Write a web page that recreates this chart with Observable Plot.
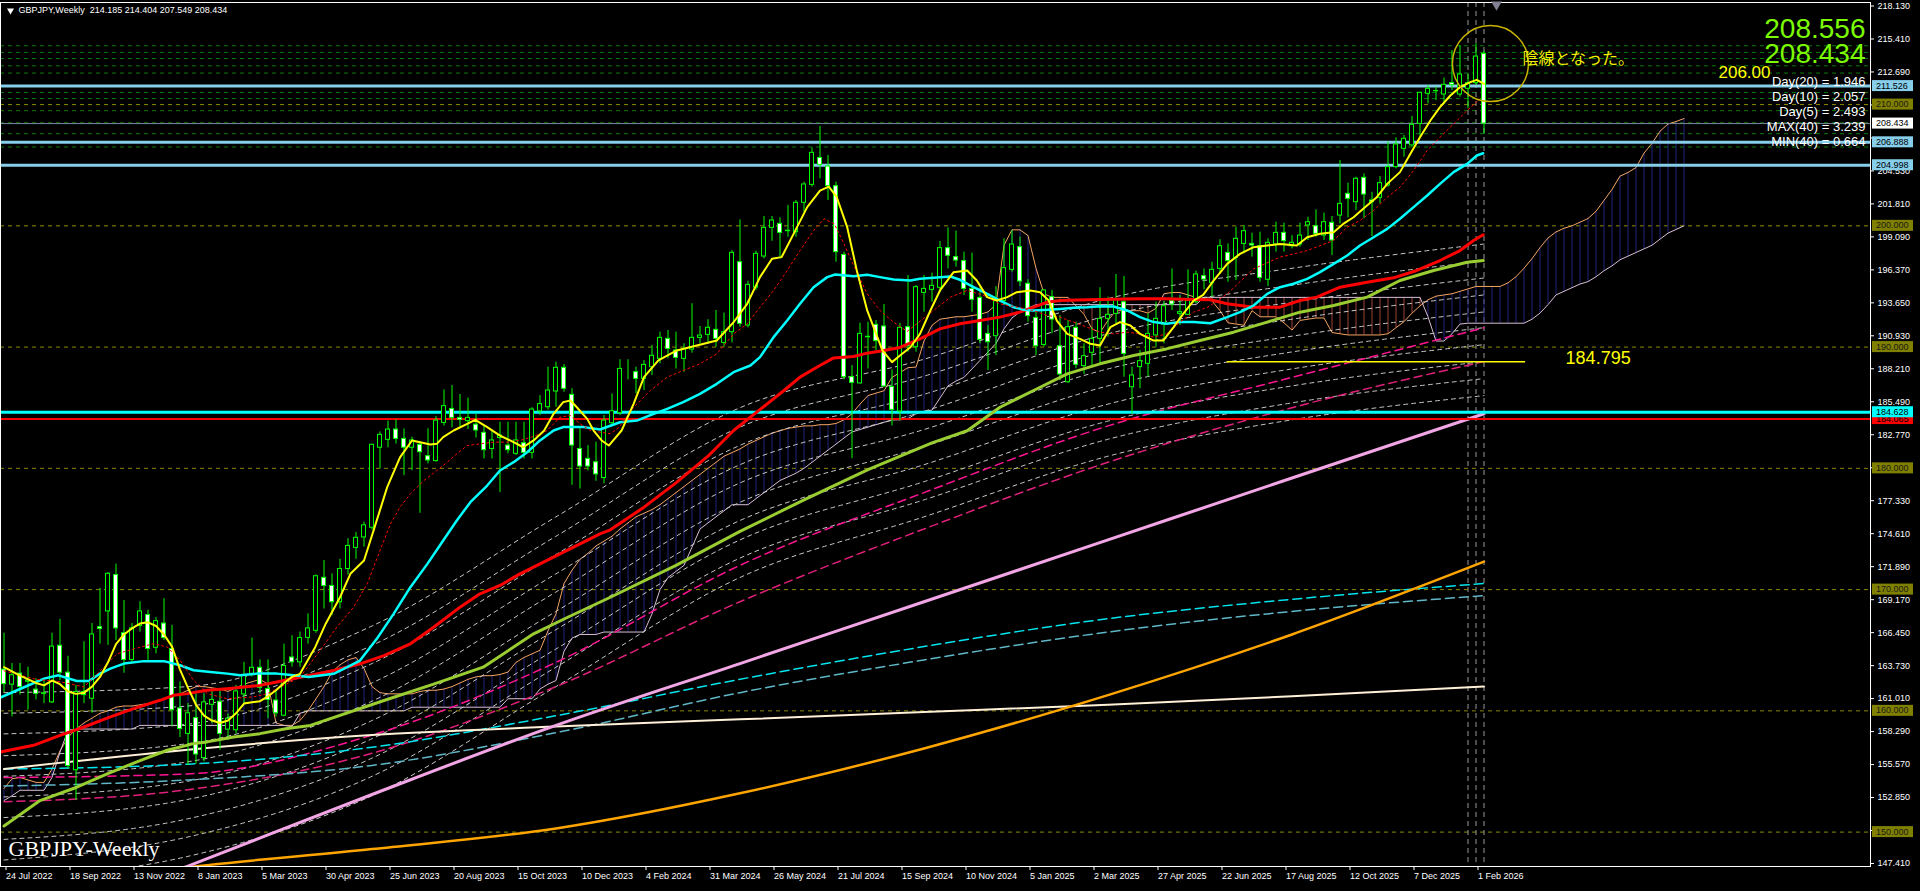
<!DOCTYPE html>
<html><head><meta charset="utf-8">
<script src="https://cdn.jsdelivr.net/npm/d3@7"></script>
<script src="https://cdn.jsdelivr.net/npm/@observablehq/plot@0.6"></script>
<style>
html,body{margin:0;padding:0;background:#000;overflow:hidden}
#chart{position:relative;width:1920px;height:891px}
</style></head><body><div id="chart"></div>
<script>
// ---------- candle data (weekly, bar 0 = 24 Jul 2022) ----------
const opens=[163.4,162.16,163.07,162.4,161.75,161.4,160.7,165.37,163.15,155.1,161.55,161.0,166.9,168.2,171.2,166.4,164.2,167.0,167.9,165.2,167.2,165.1,160.2,158.1,159.4,156.1,160.5,160.75,158.45,158.4,161.35,163.05,163.55,161.8,160.85,159.6,164.4,164.0,166.02,166.6,170.97,170.3,168.96,171.7,173.44,174.3,175.1,181.7,182.35,183.2,182.43,181.7,181.94,181.0,180.6,183.75,184.9,184.16,183.89,183.6,182.93,181.6,182.5,181.88,181.2,182.07,181.28,184.7,185.04,186.34,188.29,186.06,181.6,180.78,180.5,179.2,183.72,184.55,188.12,187.93,187.38,188.34,189.03,190.68,189.72,189.03,189.8,190.76,191.01,191.42,190.35,191.23,197.0,191.78,194.9,197.47,199.83,200.16,199.56,199.48,201.9,203.38,205.6,204.89,203.27,197.6,187.52,187.0,190.81,191.83,191.7,186.7,184.69,191.64,189.99,194.47,194.72,194.89,198.16,197.42,197.09,194.8,194.06,191.09,190.9,193.79,196.37,198.24,195.22,192.41,190.18,194.12,190.07,187.1,191.59,188.43,189.53,190.68,192.33,192.74,193.7,186.69,188.35,188.62,190.96,191.86,193.79,192.74,192.66,193.7,195.85,195.27,196.45,197.77,197.36,198.51,198.51,198.32,195.55,198.46,199.42,198.32,198.46,200.03,199.97,199.2,200.25,200.85,202.64,201.95,203.96,202.09,202.31,203.33,204.84,206.35,206.63,208.41,210.89,211.1,210.83,211.77,210.83,211.3,211.77,214.185];
const highs=[166.4,163.9,163.9,163.6,162.65,162.6,166.4,167.55,164.5,162.1,165.7,167.2,170.1,171.4,172.1,169.1,167.2,169.0,168.3,167.7,169.25,167.05,162.4,160.6,161.4,161.4,161.8,161.7,159.75,162.1,164.0,166.0,164.2,164.2,161.7,165.5,166.2,166.5,168.0,171.2,172.4,171.3,172.5,174.2,174.7,175.56,182.0,183.0,183.9,184.0,183.25,182.57,182.16,183.26,184.27,186.47,186.83,186.09,185.8,184.44,183.53,183.1,183.8,183.8,183.8,183.8,185.0,186.0,188.34,188.76,188.56,186.56,183.26,181.88,182.16,184.36,186.14,188.95,188.95,188.34,188.89,190.13,191.23,191.37,191.23,190.27,193.57,191.7,192.25,193.02,192.8,197.96,200.49,195.44,197.91,200.77,200.77,200.66,201.68,202.09,203.6,206.43,208.2,205.8,203.6,197.83,188.48,191.97,192.05,192.19,193.51,188.12,191.97,195.9,195.08,195.9,196.1,198.7,199.83,199.56,197.83,197.75,194.89,191.78,194.99,198.93,199.6,199.07,195.55,192.88,194.72,194.67,192.6,192.19,192.05,190.27,191.59,194.89,194.12,195.99,195.82,188.35,189.72,192.74,193.7,193.79,196.45,194.25,196.37,196.26,196.45,197.0,198.85,198.51,199.89,200.03,199.39,199.48,198.93,200.3,200.22,199.2,200.22,200.71,201.32,201.05,200.77,205.39,203.52,204.01,204.29,202.77,204.07,206.9,207.26,207.45,209.02,211.02,211.57,211.44,212.2,214.46,214.87,212.53,215.01,214.404];
const lows=[161.5,159.5,161.3,160.05,160.9,160.6,160.6,162.5,155.2,152.6,160.6,159.8,165.5,165.4,165.8,163.1,163.9,166.5,164.0,164.7,165.8,158.7,157.8,155.5,155.6,155.8,158.95,156.75,157.55,158.1,160.6,162.8,161.4,159.35,159.5,159.5,163.6,163.6,165.5,166.4,168.4,167.86,168.4,171.2,172.5,173.5,174.9,179.96,181.7,182.0,179.4,179.8,176.3,180.37,180.5,183.48,183.34,183.4,183.2,182.5,180.78,180.78,178.0,181.2,181.06,180.78,180.78,184.36,184.8,185.04,186.28,178.6,178.3,179.8,178.94,178.72,183.53,184.36,187.3,186.15,186.42,187.65,188.62,189.03,188.2,187.93,189.5,190.27,190.27,189.99,189.99,190.35,191.64,191.59,194.67,197.28,198.73,197.28,199.06,199.06,201.13,203.19,203.88,202.09,197.0,187.3,180.8,186.97,188.2,189.72,186.7,183.5,183.94,189.58,189.58,192.88,193.7,194.53,196.45,196.59,194.25,192.88,190.27,188.07,189.3,193.43,196.18,194.99,192.06,189.3,189.99,191.09,187.24,187.02,188.21,187.74,188.35,188.62,190.82,191.92,187.52,184.5,186.56,187.52,189.99,190.27,193.02,191.78,192.6,193.57,194.72,194.12,196.04,195.35,195.49,197.69,197.42,195.35,194.99,197.83,197.83,198.1,198.24,198.79,199.06,198.79,197.55,200.16,200.66,201.26,200.58,199.12,201.81,203.19,204.7,205.66,206.49,207.31,210.06,210.33,210.0,211.16,210.61,209.65,211.57,207.549];
const closes=[162.2,162.93,161.97,162.5,161.4,161.45,165.3,163.15,155.45,161.55,161.3,166.3,166.75,171.3,166.8,164.2,166.8,168.2,165.1,167.4,166.0,160.05,158.5,159.8,156.4,160.7,160.9,158.1,159.35,161.6,162.95,163.55,161.9,160.9,159.8,163.7,164.0,166.0,166.8,171.1,170.3,168.96,171.7,173.6,174.27,175.3,181.94,182.76,183.2,182.43,181.7,182.3,181.33,180.65,183.94,185.13,184.16,184.0,184.16,183.12,181.5,182.3,182.7,181.5,182.3,181.28,184.85,185.3,186.42,188.29,186.56,181.88,180.15,180.15,179.5,183.94,184.71,188.2,188.12,187.38,188.53,189.28,190.76,189.85,189.11,189.85,190.76,190.95,191.59,190.68,191.23,197.77,191.92,195.13,197.69,199.83,200.44,199.42,199.6,201.9,203.41,206.02,205.03,203.27,197.83,187.52,187.05,191.09,190.85,190.49,186.75,184.82,191.59,190.07,194.94,194.8,195.05,198.16,197.53,197.14,194.8,193.9,190.6,190.4,193.79,196.51,198.46,195.41,192.55,190.07,194.67,192.27,187.74,191.64,188.54,189.25,190.68,192.33,192.66,193.9,189.44,187.66,188.84,191.09,192.33,193.37,193.51,192.88,193.84,195.99,195.57,196.37,198.32,197.09,198.93,199.56,198.38,195.71,198.6,199.42,198.74,198.6,199.2,200.3,199.34,200.3,198.79,201.81,202.23,203.88,202.58,201.95,203.52,204.84,206.71,207.18,208.33,210.97,211.3,211.12,211.63,211.6,212.48,211.77,213.96,208.434];

// ---------- x-axis labels ----------
const dateBars=[0,8,16,24,32,40,48,56,64,72,80,88,96,104,112,120,128,136,144,152,160,168,176,184];
const dateLabels=["24 Jul 2022","18 Sep 2022","13 Nov 2022","8 Jan 2023","5 Mar 2023","30 Apr 2023","25 Jun 2023","20 Aug 2023","15 Oct 2023","10 Dec 2023","4 Feb 2024","31 Mar 2024","26 May 2024","21 Jul 2024","15 Sep 2024","10 Nov 2024","5 Jan 2025","2 Mar 2025","27 Apr 2025","22 Jun 2025","17 Aug 2025","12 Oct 2025","7 Dec 2025","1 Feb 2026"];
// ---------- y-axis ticks (labels hidden under price boxes are left blank) ----------
const yTicks=[147.41,150.13,152.85,155.57,158.29,161.01,163.73,166.45,169.17,171.89,174.61,177.33,180.05,182.77,185.49,188.21,190.93,193.65,196.37,199.09,201.81,204.53,207.25,209.97,212.69,215.41,218.13];
const yTicksHidden=[150.13,180.05,207.25,209.97];

// ---------- moving averages (bar, value) ----------
const yellowMA=[[0,163.6],[2,162.9],[4,162.3],[5,162.1],[6,162.5],[7,162.2],[8,161.6],[9,161.4],[10,161.5],[11,162.0],[12,162.8],[13,164.0],[14,165.5],[15,166.3],[16,166.8],[17,167.2],[18,167.3],[19,167.0],[20,166.3],[21,165.3],[22,163.4],[23,161.9],[24,160.5],[25,159.6],[26,159.2],[27,159.0],[28,159.2],[29,159.8],[30,160.6],[31,160.7],[32,160.8],[33,161.2],[34,161.7],[35,162.3],[36,162.8],[37,163.05],[38.9,165.25],[40.2,167.17],[42,169.37],[43.3,171.3],[45,172.4],[46.2,174.88],[47.9,178.45],[49.5,180.9],[51,182.3],[52,182.16],[53.3,181.97],[54.1,182.02],[54.9,182.57],[56.2,183.12],[57.9,183.67],[58.9,184.0],[60.4,183.4],[62,182.7],[63.7,182.16],[64.9,181.74],[66.2,182.3],[67.5,183.1],[68.7,184.5],[69.9,185.46],[70.8,185.6],[71.6,185.04],[72.9,184.08],[73.7,183.12],[74.7,182.3],[75.6,181.88],[77.2,183.12],[78.7,185.32],[80,187.52],[81.8,188.9],[84.1,189.72],[86.6,190.13],[89.1,190.54],[91.2,192.05],[92.9,193.57],[94.5,195.77],[96,197.28],[97.2,197.42],[98.7,199.34],[100.4,201.54],[102,202.91],[103.1,203.24],[104.1,202.36],[105.4,199.89],[106.6,196.32],[107.9,193.02],[108.7,191.64],[109.8,189.72],[111,188.76],[112,189.3],[113.3,189.99],[114.5,191.09],[115.8,193.02],[117,194.67],[118.7,196.18],[120.4,196.32],[121.6,195.49],[122.9,194.12],[124.1,193.84],[125.4,194.12],[126.6,194.53],[128.3,194.67],[129.5,194.53],[130.6,193.84],[131.6,192.19],[132.9,191.09],[134.5,190.68],[135.8,190.27],[137,190.13],[138.3,191.64],[139.5,192.06],[140.8,191.78],[142,191.09],[143.7,190.54],[144.9,190.54],[146.2,191.64],[147.4,192.74],[148.7,193.84],[149.9,194.3],[151.2,195.49],[152.9,196.86],[154.5,197.69],[156.2,198.24],[157.9,198.38],[159.5,198.51],[161.6,198.38],[162.9,199.06],[164.5,199.34],[166.2,199.48],[167.4,200.16],[168.7,200.71],[169.9,201.4],[171.6,202.36],[172.9,203.46],[174.5,204.43],[175.8,205.94],[177,207.31],[178.3,208.69],[179.5,209.79],[180.8,210.75],[182,211.44],[183.3,211.85],[184.1,212.04],[185,211.71]];
const redDotMA=[[0,163.3],[4,162.6],[7,162.4],[10,161.97],[12.5,163.6],[14.1,164.7],[16.2,165.1],[18.7,165.54],[20.4,165.27],[22,164.17],[23.7,162.52],[25.4,161.42],[27.9,161.0],[31.2,161.15],[32.9,161.42],[35,162.1],[37,162.78],[39.5,164.97],[41.6,166.9],[43.7,168.55],[45.4,170.47],[47,173.22],[48.3,175.4],[49.5,176.8],[50.8,177.9],[52.5,179.0],[54.1,179.82],[55.4,180.5],[56.6,181.2],[57.9,181.88],[59.5,182.02],[61.2,182.16],[62.9,182.16],[64.5,182.3],[66.2,182.63],[67.9,183.12],[69.5,184.22],[70.8,184.36],[72,183.67],[73.3,183.12],[75.8,182.85],[76.9,183.4],[78.7,185.04],[80.8,186.42],[82.9,187.52],[84.9,188.07],[87,188.62],[89.1,189.44],[91.2,191.09],[92.9,191.92],[94.5,193.29],[96.2,194.67],[97.9,196.32],[99.5,197.96],[101.2,199.61],[102.5,200.58],[103.8,200.16],[105,198.51],[106.3,196.59],[107.9,194.39],[109.5,193.02],[111.2,192.05],[112.9,191.3],[116.2,193.02],[118.3,194.12],[120.4,194.67],[122.5,194.25],[124.5,193.57],[126.6,193.29],[128.7,193.02],[130.4,192.6],[132,192.47],[133.7,192.06],[135.4,191.64],[137,191.23],[138.7,191.09],[140.4,191.23],[142,191.09],[143.7,190.82],[145.3,191.09],[147,192.06],[148.7,192.88],[150.5,193.3],[152.9,194.39],[156.2,196.45],[159.5,197.42],[162.9,197.96],[166.2,198.79],[167.9,199.89],[169.5,200.44],[171.2,201.26],[172.9,202.36],[174.5,203.19],[176.2,204.56],[177.9,206.21],[179.5,207.31],[181.2,208.41],[182.9,209.51],[184.5,210.47]];
const cyanMA=[[-0.46,161.1],[2,161.8],[5,162.66],[6.8,162.93],[9.1,162.46],[10.6,162.46],[12,163.07],[13.3,163.48],[15,163.9],[17.5,164.1],[20,164.1],[22,163.76],[23.7,163.35],[25.8,163.2],[27.9,163.07],[29.5,162.93],[31.6,163.07],[34.1,163.07],[36.2,162.93],[38.1,162.8],[41.2,163.05],[42.9,163.6],[44.5,164.15],[46.6,165.94],[48.7,168.0],[50.8,170.2],[52.9,172.1],[54.9,174.05],[56.6,175.7],[58.3,177.21],[60.4,178.58],[62,179.82],[63.7,180.51],[65.4,181.33],[67,182.3],[68.7,183.12],[69.9,183.4],[72.5,183.4],[74.5,183.2],[77,183.8],[79.1,183.94],[81.2,184.49],[82.9,184.9],[84.9,185.46],[87,186.14],[89.1,186.97],[91.2,187.93],[93.3,188.48],[94.5,189.17],[96.2,190.82],[97.9,192.19],[99.5,193.57],[101.2,194.94],[102.9,195.77],[103.9,195.99],[106.2,195.85],[107.9,195.96],[109.5,195.77],[111.2,195.57],[113.3,195.49],[114.5,195.63],[116.2,195.71],[118.3,195.82],[119.5,195.55],[121.2,194.94],[122.9,194.39],[124.5,193.84],[126.2,193.29],[127.5,193.07],[128.7,193.02],[130.4,193.07],[132,193.15],[133.7,193.24],[135.4,193.29],[137,193.37],[138.7,193.35],[140.4,193.02],[142,192.47],[143.7,192.06],[145.3,191.92],[147,192.06],[148.7,192.06],[150.8,191.97],[152.9,192.47],[154.5,192.88],[156.2,193.43],[157.9,194.39],[159.5,194.94],[161.2,195.22],[162.9,195.63],[164.5,196.18],[166.2,196.86],[167.9,197.55],[169.5,198.38],[171.2,199.06],[172.9,199.75],[174.5,200.58],[176.2,201.54],[177.9,202.5],[179.5,203.46],[181.2,204.43],[182.9,205.11],[184.1,205.8],[184.9,205.99]];
const redMA=[[-0.46,156.6],[3.7,157.16],[7,157.98],[10,158.67],[13.3,159.5],[16.2,160.18],[19.5,160.87],[21.2,161.28],[22.9,161.42],[25.4,161.7],[27.9,161.83],[30,161.97],[32,162.1],[34.1,162.38],[36.2,162.66],[38.3,162.93],[41.2,163.33],[44.5,163.88],[47.5,164.56],[50.8,165.53],[53.7,166.9],[57,168.55],[59.5,169.65],[62,170.34],[64.5,171.3],[67,172.12],[69.5,172.95],[72,173.77],[74.5,174.6],[75.8,174.93],[80,176.8],[84,178.8],[88,181.0],[91.2,183.12],[93.3,184.22],[95.4,185.32],[97.5,186.42],[99.5,187.52],[101.6,188.34],[103.7,189.11],[106.2,189.22],[107.9,189.5],[110,189.72],[112,189.97],[114.5,190.68],[117,191.5],[119.5,191.92],[122,192.19],[124.5,192.47],[127,192.88],[128.7,193.29],[130.4,193.7],[132,193.84],[135.4,193.9],[138.7,193.95],[142,193.98],[145.3,193.98],[148.7,193.92],[150.8,193.9],[152.9,193.57],[156.2,193.29],[159.5,193.29],[162,193.84],[164.1,194.12],[167,194.94],[170.4,195.35],[173.7,195.71],[176.6,196.32],[179.5,197.14],[182,197.96],[183.7,198.79],[184.9,199.26]];
const greenMA=[[0,150.5],[4.5,152.6],[9.1,153.7],[12.9,154.8],[17,155.9],[20.4,156.75],[23.7,157.3],[25.4,157.44],[28.7,157.85],[32,158.12],[35.4,158.54],[38.3,158.8],[47.5,160.85],[53.7,162.2],[59.9,163.6],[66.2,166.35],[70.4,167.7],[75.8,169.37],[84,172.0],[92,174.8],[100,177.4],[108,179.9],[116,182.1],[120.4,183.1],[124.5,185.04],[128.7,186.42],[132.9,187.79],[137,188.62],[141.2,189.3],[145.3,189.85],[149.5,190.54],[153.7,191.23],[157.9,192.06],[162,192.88],[166.2,193.43],[170.4,194.12],[174.5,195.49],[178.7,196.32],[182.9,197.0],[184.9,197.14]];

// slow lines sampled at these bars
const slowBars=[0,23,46,69,92,115,138,161,185];
const pinkMA=[141.4,147.2,153.1,158.8,163.9,169.0,174.1,179.2,184.5];
const orangeMA=[145.0,147.1,148.6,150.3,153.2,156.9,161.3,166.3,172.3];
const creamMA=[155.2,156.8,158.0,158.7,159.3,159.9,160.5,161.2,162.0];
const cyanDashMA=[155.2,155.6,157.0,159.6,162.6,165.3,167.6,169.2,170.5];
const tealDashMA=[153.8,154.3,155.5,158.2,161.5,164.2,166.5,168.2,169.5];
const magentaMA1=[154.5,154.8,158.0,164.0,172.0,178.0,183.5,187.5,191.6];
const magentaMA2=[152.5,153.5,156.5,162.0,169.0,175.0,180.5,185.0,188.8];
const fan1=[161.5,162.0,167.0,176.0,185.0,189.0,194.0,196.5,198.5];
const fan2=[159.8,160.4,165.4,174.4,183.4,187.6,192.6,195.1,197.1];
const fan3=[158.1,158.9,163.9,172.9,181.9,186.1,191.1,193.7,195.7];
const fan4=[156.3,157.3,162.3,171.3,180.3,184.7,189.7,192.3,194.3];
const fan5=[154.6,155.8,160.8,169.8,178.8,183.2,188.2,190.9,192.9];
const fan6=[152.9,154.2,159.2,168.2,177.2,181.8,186.8,189.6,191.6];
const fan7=[151.2,152.7,157.7,166.7,175.7,180.3,185.3,188.2,190.2];
const fan8=[149.4,151.1,156.1,165.1,174.1,178.9,183.9,186.8,188.8];
const fan9=[147.7,149.6,154.6,163.6,172.6,177.4,182.4,185.4,187.4];
const fan10=[146.0,148.0,153.0,162.0,171.0,176.0,181.0,184.0,186.0];

// ---------- Ichimoku cloud spans, one value per bar 0..210 ----------
const spanA=[153.6,154.4,154.5,154.3,154.1,154.1,155.2,156.7,157.8,158.5,
159.0,159.4,159.8,160.0,160.3,160.4,160.4,160.5,160.6,160.8,
161.0,161.2,161.4,161.7,162.0,162.0,161.9,161.8,161.6,161.9,
162.2,162.4,162.6,162.2,159.0,158.8,158.8,159.2,160.0,161.0,
162.0,163.2,163.8,164.2,164.4,163.5,162.0,161.5,161.4,161.4,
161.4,161.4,161.6,161.7,161.7,161.8,162.0,162.3,162.6,162.8,
162.9,162.9,163.0,163.2,164.0,164.4,164.7,165.0,166.6,168.0,
170.5,171.6,172.5,173.0,173.6,174.0,174.4,175.0,175.5,176.0,
176.3,176.6,177.0,177.5,178.0,178.5,179.0,179.5,180.0,180.5,
181.0,181.3,181.6,182.0,182.3,182.6,182.9,183.1,183.3,183.4,
183.5,183.5,183.6,183.6,183.7,184.0,184.5,185.3,186.0,186.2,
186.4,187.5,187.9,188.3,188.35,190.5,191.8,192.3,192.4,192.5,
192.5,192.6,192.7,192.9,193.5,198.4,199.67,199.67,199.2,196.5,
194.4,194.1,194.1,194.1,193.4,192.7,191.5,191.2,192.2,193.0,
193.0,193.0,193.0,192.8,193.2,194.4,194.5,194.5,194.3,194.1,
194.0,193.8,193.0,192.0,191.9,191.8,193.0,192.5,192.5,192.5,
192.0,191.4,192.2,192.3,192.4,192.4,191.2,191.1,191.0,191.0,
191.0,191.0,191.0,191.1,191.6,192.1,192.8,193.4,193.9,194.2,
194.3,194.4,194.6,194.8,195.0,195.0,195.0,195.0,195.3,195.8,
196.5,197.3,198.2,199.0,199.5,199.8,200.0,200.3,200.6,201.2,
202.1,203.0,204.1,204.4,204.8,206.0,206.8,207.8,208.4,208.6,208.85];
const spanB=[152.6,153.0,153.45,153.45,153.45,153.45,154.5,156.6,158.4,158.5,
158.5,158.5,158.5,158.5,158.5,158.5,158.5,158.8,158.8,158.8,
158.8,158.8,158.8,158.8,158.8,158.8,158.8,158.8,158.8,158.8,
158.8,158.8,158.8,158.8,158.8,158.8,158.7,159.8,160.0,160.0,
160.0,160.0,160.0,160.0,160.0,160.0,160.0,160.0,160.0,160.0,
160.0,160.3,160.3,160.3,160.3,160.3,160.3,160.3,160.3,160.3,
160.3,160.3,160.3,161.0,161.0,161.0,161.0,161.8,162.2,162.5,
164.9,166.0,166.3,166.3,166.3,166.5,166.5,166.5,166.5,166.5,
166.5,168.0,170.0,171.0,171.5,172.0,173.5,175.0,175.5,176.0,
176.5,177.0,177.0,177.0,177.5,178.0,178.5,179.0,179.3,179.6,
180.0,180.5,181.0,181.5,182.0,182.5,183.0,183.2,183.4,183.6,
183.8,184.0,184.0,184.1,184.5,184.7,184.8,185.8,186.8,187.2,
187.5,188.2,188.9,189.6,190.3,191.5,192.4,192.9,193.2,193.5,
193.5,193.5,193.5,193.5,193.5,193.5,193.5,193.5,193.5,193.5,
193.5,193.5,193.5,193.5,193.5,193.5,193.5,193.5,193.5,193.5,
194.1,194.1,194.1,194.1,194.1,194.1,194.1,194.1,194.1,194.1,
194.1,194.1,194.1,194.1,194.1,194.1,194.1,194.1,194.1,194.1,
194.1,194.1,194.1,194.1,194.1,194.1,194.1,194.1,192.5,190.5,
190.5,191.1,191.9,191.97,191.97,191.97,191.97,191.97,191.97,191.97,
191.97,192.3,192.8,193.5,194.3,194.6,194.9,195.2,195.4,195.8,
196.3,196.7,197.2,197.5,197.8,198.1,198.4,198.9,199.4,199.7,200.0];

// ---------- horizontal levels ----------
const skyLevels=[211.526,206.888,204.998];
const cyanLevel=184.628;
const redLevel=184.065;
const bidPrice=208.434;
const roundLevels=[150,160,170,180,190,200,210];
const greenLevels=[214.85,214.3,213.8,213.2,212.6,211.0,210.5,209.5,208.5,207.6,206.5];
const separatorBars=[183,184,185];
const trendLevel=188.8, trendFrom=152.9, trendTo=190.2, trendLabel="184.795";

// ---------- texts ----------
const headerSymbol="GBPJPY,Weekly";
const headerOHLC=[214.185,214.404,207.549,208.434];
const bigPrices=["208.556","208.434"];
const yellowNote="206.00";
const statNames=["Day(20)","Day(10)","Day(5)","MAX(40)","MIN(40)"];
const statValues=[1.946,2.057,2.493,3.239,0.664];
const jpNote="陰線となった。";
const chartName="GBPJPY-Weekly";
const circleBar=185.8, circlePrice=213.38;

// ---------- build ----------
const bars=opens.map((o,i)=>({i,o,h:highs[i],l:lows[i],c:closes[i]}));
const cloud=spanA.map((a,i)=>({i,a,b:spanB[i]}));
const pairs=(arr)=>slowBars.map((b,k)=>[b,arr[k]]);
const L=(pts,o)=>Plot.line(pts,{x:d=>d[0],y:d=>d[1],clip:true,...o});
const fans=[fan1,fan2,fan3,fan4,fan5,fan6,fan7,fan8,fan9,fan10];

const plot=Plot.plot({
  width:1920,height:891,
  marginLeft:0,marginRight:50,marginTop:2,marginBottom:25,
  style:{background:"#000",color:"#fff",fontFamily:"Liberation Sans, Arial, sans-serif",fontSize:"9px",overflow:"visible"},
  x:{type:"linear",domain:[-0.4375,233.3125],axis:null},
  y:{type:"linear",domain:[147.163,218.419],axis:null},
  marks:[
    Plot.ruleY(greenLevels,{stroke:"#0a7a0a",strokeDasharray:"4,4",strokeWidth:1}),
    Plot.ruleY(roundLevels,{stroke:"#8a8a00",strokeDasharray:"4,4",strokeWidth:1}),
    Plot.ruleX(separatorBars,{stroke:"#9a9a9a",strokeDasharray:"5,4",strokeWidth:1}),
    // Ichimoku cloud hatch
    Plot.ruleX(cloud,{x:"i",y1:"a",y2:"b",stroke:d=>d.a>=d.b?"#23237e":"#9c4535",strokeWidth:1,clip:true}),
    L(spanA.map((v,i)=>[i,v]),{stroke:"#f4a460",strokeWidth:1}),
    L(spanB.map((v,i)=>[i,v]),{stroke:"#d8bfd8",strokeWidth:1}),
    // slow fan lines
    ...fans.map(f=>L(pairs(f),{stroke:"#c8c8c8",strokeWidth:1,strokeDasharray:"4,4",curve:"monotone-x"})),
    L(pairs(magentaMA1),{stroke:"#ff1493",strokeWidth:1.5,strokeDasharray:"8,5",curve:"monotone-x"}),
    L(pairs(magentaMA2),{stroke:"#e0207a",strokeWidth:1.5,strokeDasharray:"8,5",curve:"monotone-x"}),
    L(pairs(cyanDashMA),{stroke:"#00e5ee",strokeWidth:1.5,strokeDasharray:"9,5",curve:"monotone-x"}),
    L(pairs(tealDashMA),{stroke:"#5fb7c8",strokeWidth:1.5,strokeDasharray:"9,5",curve:"monotone-x"}),
    L(pairs(creamMA),{stroke:"#fff0d8",strokeWidth:2,curve:"monotone-x"}),
    L(pairs(orangeMA),{stroke:"#ffa500",strokeWidth:2.5,curve:"monotone-x"}),
    L(pairs(pinkMA),{stroke:"#f2a6e6",strokeWidth:3,curve:"monotone-x"}),
    // horizontal objects
    Plot.ruleY(skyLevels,{stroke:"#87ceeb",strokeWidth:3}),
    Plot.ruleY([bidPrice],{stroke:"#778899",strokeWidth:1}),
    Plot.ruleY([cyanLevel],{stroke:"#00ffff",strokeWidth:3}),
    Plot.ruleY([redLevel],{stroke:"#ff0000",strokeWidth:2}),
    Plot.ruleY([trendLevel],{x1:trendFrom,x2:trendTo,stroke:"#ffff00",strokeWidth:1.5}),
    // candles
    Plot.ruleX(bars,{x:"i",y1:"l",y2:"h",stroke:"#00ff00",strokeWidth:1}),
    Plot.rect(bars,{x1:d=>d.i-0.25,x2:d=>d.i+0.25,y1:"o",y2:"c",fill:d=>d.c<d.o?"#ffffff":"#000000",stroke:"#00ff00",strokeWidth:1}),
    // MAs over price
    L(greenMA,{stroke:"#9acd32",strokeWidth:3}),
    L(redMA,{stroke:"#ff0000",strokeWidth:3}),
    L(cyanMA,{stroke:"#00ffff",strokeWidth:2.5}),
    L(redDotMA,{stroke:"#ff0000",strokeWidth:1,strokeDasharray:"2,3"}),
    L(yellowMA,{stroke:"#ffff00",strokeWidth:2}),
    // axes & frame
    Plot.axisY({anchor:"right",ticks:yTicks,tickFormat:d=>yTicksHidden.includes(d)?"":d.toFixed(3),tickSize:3,tickPadding:4,fontSize:9,stroke:"#fff",fill:"#fff",label:null}),
    Plot.axisX({ticks:dateBars,tickFormat:d=>dateLabels[dateBars.indexOf(d)],textAnchor:"start",tickSize:4,tickPadding:2,dx:2,fontSize:9,stroke:"#fff",fill:"#fff",label:null}),
    Plot.frame({stroke:"#fff",strokeWidth:1}),
    // annotations
    Plot.dot([0],{x:circleBar,y:circlePrice,r:38,stroke:"#c8b400",strokeWidth:1.5,fill:"none"}),
    Plot.text([`${headerSymbol}  ${headerOHLC.map(v=>v.toFixed(3)).join(" ")}`],{frameAnchor:"top-left",dx:18,dy:8,lineAnchor:"middle",textAnchor:"start",fill:"#fff",fontSize:9}),
    Plot.dot([0],{frameAnchor:"top-left",dx:10,dy:8,symbol:"triangle",rotate:180,r:2.6,fill:"#fff",stroke:"none"}),
    Plot.dot([0],{frameAnchor:"top-right",dx:-374,dy:2,symbol:"triangle",rotate:180,r:4,fill:"#808090",stroke:"none"}),
    Plot.text([bigPrices[0]],{frameAnchor:"top-right",dx:-5,dy:16,lineAnchor:"top",textAnchor:"end",fill:"#7cfc00",fontSize:28}),
    Plot.text([bigPrices[1]],{frameAnchor:"top-right",dx:-5,dy:41,lineAnchor:"top",textAnchor:"end",fill:"#7cfc00",fontSize:28}),
    Plot.text([yellowNote],{frameAnchor:"top-right",dx:-100,dy:63,lineAnchor:"top",textAnchor:"end",fill:"#ffff00",fontSize:17}),
    Plot.text([statNames.map((n,k)=>`${n} = ${statValues[k].toFixed(3)}`).join("\n")],{frameAnchor:"top-right",dx:-5,dy:73,lineAnchor:"top",lineHeight:1.15,textAnchor:"end",fill:"#fff",fontSize:13}),
    Plot.text([jpNote],{frameAnchor:"top-right",dx:-348,dy:56,lineAnchor:"middle",textAnchor:"start",fill:"#f0f000",fontSize:16,fontFamily:"Noto Sans CJK JP"}),
    Plot.text([trendLabel],{x:195.2,y:trendLevel,dy:-3,textAnchor:"start",lineAnchor:"middle",fill:"#ffff00",fontSize:18}),
    Plot.text([chartName],{frameAnchor:"bottom-left",dx:8,dy:-18,lineAnchor:"middle",textAnchor:"start",fill:"#fff",fontSize:22,fontFamily:"Liberation Serif, Times New Roman, serif"})
  ]
});
document.getElementById("chart").appendChild(plot);

// right-axis price label boxes (positions from the plot's own y scale)
const ys=plot.scale("y");
const svg=d3.select(plot);
const boxes=[
  ...roundLevels.map(v=>({v,bg:"#808000",fg:"#1a1a1a"})),
  ...skyLevels.map(v=>({v,bg:"#87ceeb",fg:"#000"})),
  {v:bidPrice,bg:"#ffffff",fg:"#000"},
  {v:redLevel,bg:"#ff0000",fg:"#000"},
  {v:cyanLevel,bg:"#00ffff",fg:"#000"}
];
const g=svg.append("g").attr("text-anchor","start");
boxes.forEach(b=>{
  const y=ys.apply(b.v);
  g.append("rect").attr("x",1872).attr("y",y-5.5).attr("width",41).attr("height",11).attr("fill",b.bg);
  g.append("text").attr("x",1876).attr("y",y).attr("dy","0.35em").attr("fill",b.fg).attr("text-anchor","start")
    .attr("font-size",9).attr("font-family","Liberation Sans, Arial, sans-serif").text(b.v.toFixed(3));
});
</script></body></html>
